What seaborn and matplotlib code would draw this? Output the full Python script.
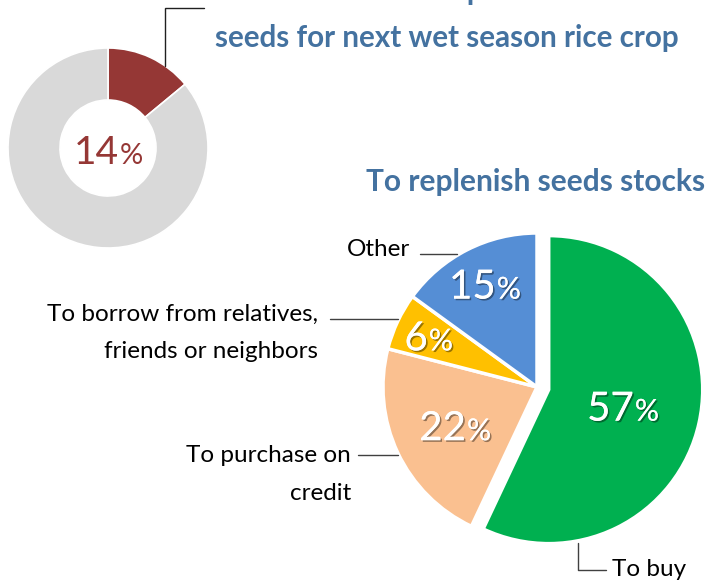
import numpy as np
import matplotlib
matplotlib.use("Agg")
import matplotlib.pyplot as plt
import matplotlib.patheffects as pe
import seaborn as sns

# --- data -------------------------------------------------------------
donut_labels = ["Reported", "Not reported"]
donut_values = [14, 86]

reason_labels = ["To buy", "To purchase on\ncredit",
                 "To borrow from relatives,\nfriends or neighbors", "Other"]
reason_values = [57, 22, 6, 15]

title_top = ["Households that reported insufficient",
             "seeds for next wet season rice crop"]
title_pie = "To replenish seeds stocks"

# --- style ------------------------------------------------------------
sns.set_theme(style="white")
plt.rcParams["font.family"] = ["Lato", "DejaVu Sans"]

donut_colors = ["#953735", "#D9D9D9"]
reason_colors = sns.color_palette(["#00B050", "#FAC090", "#FFC000", "#558ED5"])
title_color = "#4472A0"

W, H = 709, 580
fig = plt.figure(figsize=(W / 100, H / 100), dpi=100)
ax = fig.add_axes([0, 0, 1, 1])


def py(y):
    """Convert a top-down pixel row into the axes' upward y."""
    return H - y


def pct_text(x, y, value, size, color, effects=None):
    """Centre a 'NN%' label on (x, y) with a smaller percent sign."""
    kw = dict(va="baseline", ha="left", color=color, path_effects=effects)
    digits = ax.text(x, y, f"{value}", fontsize=size, **kw)
    sign = ax.text(x, y, "%", fontsize=size * 0.75, **kw)
    r = fig.canvas.get_renderer()
    w1 = digits.get_window_extent(r).width
    w2 = sign.get_window_extent(r).width
    x0 = x - (w1 + w2) / 2
    base = y - 0.72 * size * 100 / 72 / 2
    digits.set_position((x0, base))
    sign.set_position((x0 + w1 + 1, base))


# --- donut ------------------------------------------------------------
d_center = (108, py(148))
d_radius = 100
ax.pie(donut_values, colors=donut_colors, startangle=90, counterclock=False,
       center=d_center, radius=d_radius, frame=True,
       wedgeprops=dict(width=d_radius * 0.52, edgecolor="white", linewidth=1.2))

# leader from the red wedge to the heading
ax.plot([165, 165, 204], [py(66), py(8), py(8)], color="#202020", lw=1.0,
        solid_joinstyle="miter")

ax.text(213, py(0), title_top[0], ha="left", va="baseline", fontsize=21.5,
        fontweight="bold", color=title_color)
ax.text(215, py(47), title_top[1], ha="left", va="baseline", fontsize=21.3,
        fontweight="bold", color=title_color)

# --- pie --------------------------------------------------------------
p_center = (537, py(387))
p_radius = 154
explode = [12, 0, 0, 0]
wedges, _ = ax.pie(reason_values, colors=reason_colors, startangle=90,
                   counterclock=False, center=p_center, radius=p_radius,
                   explode=explode, frame=True,
                   wedgeprops=dict(edgecolor="white", linewidth=2.5))

ax.text(705, py(191), title_pie, ha="right", va="baseline", fontsize=21.5,
        fontweight="bold", color=title_color)

# category labels with leader lines
lbl_kw = dict(fontsize=17.5, color="black", ha="right", va="center", linespacing=2.0)
line_kw = dict(color="#404040", lw=1.0)

ax.text(410, py(250), reason_labels[3], **lbl_kw)
ax.plot([420, 457], [py(254), py(254)], **line_kw)

ax.text(318, py(333), reason_labels[2], **lbl_kw)
ax.plot([330, 398], [py(319), py(319)], **line_kw)

ax.text(351, py(475), reason_labels[1], **lbl_kw)
ax.plot([358, 398], [py(455), py(455)], **line_kw)

ax.plot([578, 578, 606], [py(543), py(570), py(570)], **line_kw)
ax.text(612, py(569), reason_labels[0], fontsize=17.5, color="black",
        ha="left", va="center")

ax.set_xlim(0, W)
ax.set_ylim(0, H)
ax.set_aspect("equal")
ax.axis("off")

# value labels
pct_text(d_center[0], d_center[1] - 2, donut_values[0], 28, donut_colors[0])

label_dist = [0.57, 0.59, 0.78, 0.75]
shadow = [pe.withSimplePatchShadow(offset=(1.2, -1.2), shadow_rgbFace="black",
                                   alpha=0.4), pe.Normal()]
for w, v, dist in zip(wedges, reason_values, label_dist):
    ang = np.deg2rad((w.theta1 + w.theta2) / 2)
    cx, cy = p_center
    pct_text(cx + dist * p_radius * np.cos(ang), cy + dist * p_radius * np.sin(ang),
             v, 29, "white", shadow)

fig.savefig("out.png", dpi=100)
